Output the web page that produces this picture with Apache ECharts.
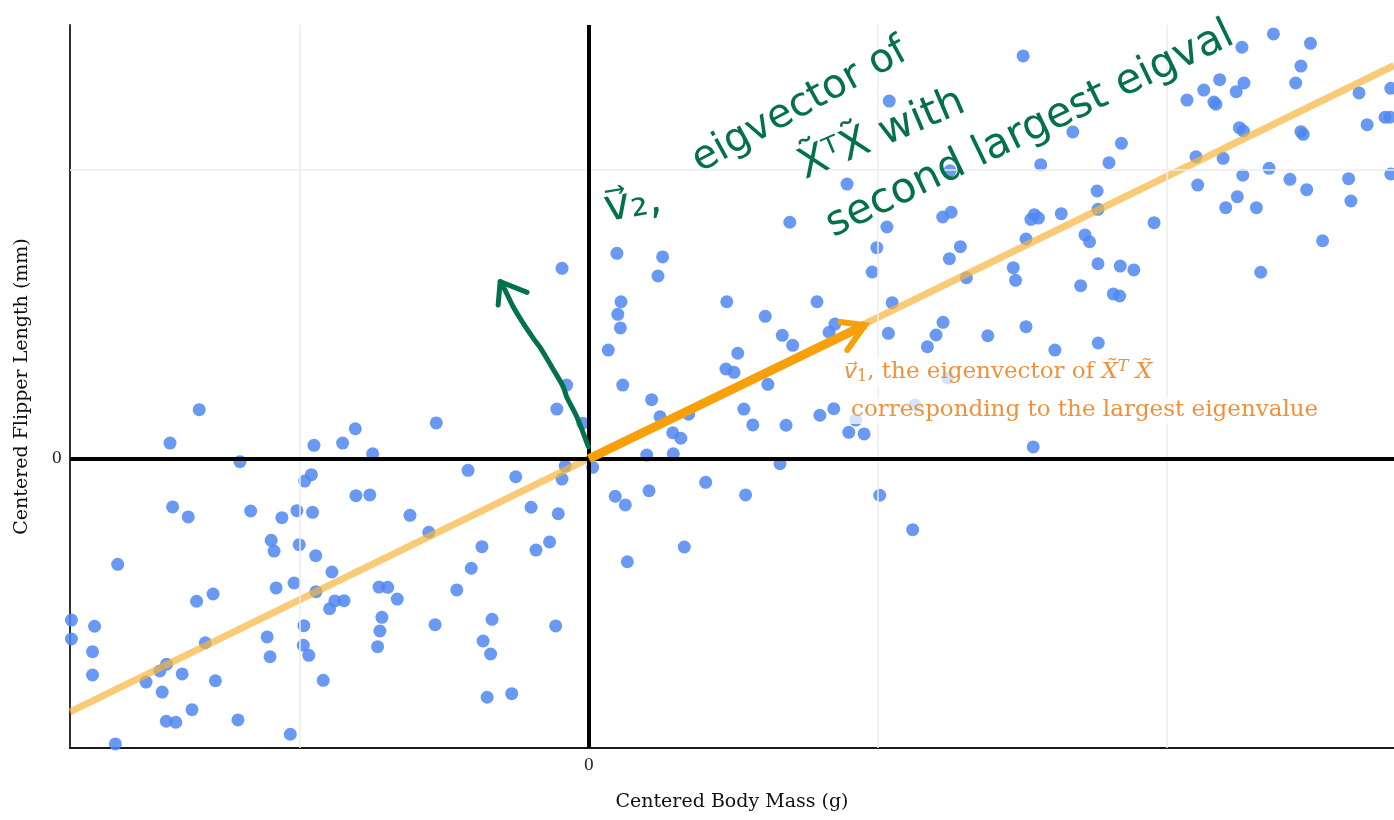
<!DOCTYPE html>
<html>
<head>
<meta charset="utf-8">
<script src="https://cdn.jsdelivr.net/npm/echarts@6/dist/echarts.min.js"></script>
<style>
html, body { margin: 0; padding: 0; background: #ffffff; }
#chart { width: 1394px; height: 820px; }
</style>
</head>
<body>
<div id="chart"></div>
<script>
// ---- data ----
// centered body mass (g) of each penguin
const massX = [
  -1348, -1449, -1207, -951, -852, -808, -748, -528, -418, -960,
  -983, -1440, -1386, -1170, -1062, -1010, -956, -806, -758, -619,
  -554, -1099, -1089, -1002, -945, -889, -370, -407, -1630, -1082,
  -1020, -944, -879, -847, -897, -726, -696, -663, -457, -1357,
  -1300, -716, -723, -731, -532, -335, -366, -340, -1790, -1790,
  -1710, -1717, -1717, -1327, -1113, -1103, -986, -988, -969, -1461,
  -1484, -1407, -1532, -1476, -1292, -919, -1373, -1462, -1429, -1214,
  -1033, -1638, -352, -267,
  -77, -111, -21, 117, 217, 246, 345, 290, 318, 200,
  292, 536, 567, 619, 682, 799, 847, 899, 952, 923,
  661, -82, 13, -253, -93, 91, 126, 208, 404, 542,
  1006, 1120, -200, -106, -183, -136, 330, 133, -115,
  -93, 97, 255, 239, 111, 100, 109, 67, 477, 610,
  669, 705, 515, 474, 502, 789, 851, 831, 1036, 1049,
  980, 996, 1031, 893, 695, 1039, 1171,
  1502, 1674, 1563, 1842, 1799, 1249, 1758, 1761, 1634, 1541,
  1529, 1555, 1224, 1253, 1955, 1716, 1732, 1512, 1285, 1247,
  1306, 1468, 1476, 1761, 1838, 1885, 1701, 1814, 1836, 1225,
  1201, 1380, 1512, 1762, 1612, 1128, 1242,
  2368, 2496, 2259, 2463, 2445, 2182, 2266, 2127, 2239, 2069,
  2169, 2162, 2250, 2264, 2463, 2471, 2100, 2194, 2353, 2262,
  2106, 2425, 2483, 2243, 2203, 2309, 2538, 2324, 2628, 2636,
  2664, 2692, 2754, 2771, 2774, 2774, 1537
];
// centered flipper length (mm) of each penguin
const flipperY = [
  3.40, 1.09, -0.20, 0.93, 1.09, 2.08, 0.35, 2.48, -0.80, -1.10,
  -1.54, -3.33, -4.02, -3.61, -4.07, -3.59, -3.70, -2.55, -2.50, -3.91,
  -5.08, -5.64, -6.38, -5.94, -6.70, -7.83, -6.08, -7.57, -7.30, -8.93,
  -8.59, -9.19, -9.83, -9.81, -10.37, -8.87, -8.89, -9.70, -9.07, -9.85,
  -9.35, -10.96, -11.91, -12.99, -11.47, -11.10, -12.60, -13.50, -11.15, -12.46,
  -11.58, -13.34, -14.95, -12.72, -12.32, -13.69, -11.54, -12.90, -13.59, -14.21,
  -14.67, -14.88, -15.44, -16.13, -15.35, -15.32, -17.35, -18.15, -18.22, -18.06,
  -19.05, -19.72, -16.49, -16.24,
  5.10, 3.44, 2.46, 5.10, 4.09, 2.91, 3.08, 1.80, 1.42, 0.26,
  0.35, 3.44, 2.34, 5.15, 2.32, 3.01, 3.46, 1.83, 1.72, 2.68,
  -0.34, -0.50, -0.59, -1.24, -1.40, -2.59, -3.19, -2.21, -1.63, -2.50,
  -2.52, -4.90, -3.35, -3.80, -6.31, -5.75, -6.10, -7.12, -11.56,
  13.17, 14.21, 13.96, 12.64, 10.86, 9.99, 9.05, 7.52, 10.86, 9.85,
  8.54, 7.85, 7.30, 6.21, 5.98, 10.86, 9.32, 8.75, 8.68, 10.80,
  12.92, 14.60, 16.03, 19.00, 16.36, 24.74, 7.75,
  27.86, 22.60, 20.34, 21.82, 20.48, 19.92, 18.52, 17.25, 16.95, 16.88,
  16.56, 16.65, 16.72, 17.05, 16.33, 15.48, 15.01, 15.20, 14.67, 13.84,
  12.52, 13.22, 12.34, 13.49, 13.33, 13.06, 11.97, 11.40, 11.26, 9.44,
  8.56, 8.51, 9.14, 8.01, 7.52, 3.72, 5.59,
  29.38, 28.73, 28.46, 27.16, 25.99, 26.22, 25.99, 25.50, 25.39, 24.81,
  24.52, 24.67, 22.90, 22.67, 22.62, 22.44, 20.89, 20.78, 20.09, 19.61,
  18.93, 19.33, 18.61, 18.13, 17.37, 17.37, 15.08, 12.90, 19.37, 17.83,
  25.30, 23.11, 23.62, 23.62, 25.62, 19.70, 0.82
];

// axis ranges and tick labels
const xRange = [-1795, 2785];
const yRange = [-20, 30];
const xTickLabels = ['0'];
const yTickLabels = ['0'];
const xGridValues = [-1000, 1000, 2000];
const yGridValues = [20];

// first principal direction (line through the cloud) and v1 arrow
const eigLine = [[-1795, -17.5], [2785, 27.2]];
const v1Shaft = [[0, 0], [955, 9.25]];
const v1Head = [[870, 9.46], [955, 9.25], [894, 7.52]];
// hand-drawn v2 arrow
const v2Shaft = [[-2, 0.84], [-42, 2.91], [-77, 4.29], [-89, 4.99], [-129, 6.37],
  [-163, 7.52], [-192, 8.33], [-227, 9.37], [-262, 10.52], [-290, 11.67], [-307, 12.25]];
const v2Head = [[-314, 10.64], [-307, 12.25], [-214, 11.51]];

// ---- styles ----
const SERIF = '"DejaVu Serif", "Liberation Serif", serif';
const HAND = '"DejaVu Sans", "Noto Sans", sans-serif';
const GREEN = '#03714c';
const ORANGE_TXT = '#f0913a';

const points = massX.map((x, i) => [x, flipperY[i]]);

const chart = echarts.init(document.getElementById('chart'), null, { renderer: 'canvas' });

const lineBase = {
  type: 'line', showSymbol: false, symbol: 'none', silent: true,
  animation: false, clip: true, emphasis: { disabled: true }
};

chart.setOption({
  animation: false,
  backgroundColor: '#ffffff',
  grid: { left: 70, right: 0, top: 25, bottom: 72, containLabel: false },
  xAxis: {
    type: 'value', min: xRange[0], max: xRange[1],
    name: 'Centered Body Mass (g)', nameLocation: 'middle', nameGap: 45,
    nameTextStyle: { fontFamily: SERIF, fontSize: 19, color: '#111' },
    axisLine: { show: true, onZero: false, lineStyle: { color: '#1a1a1a', width: 1.8 } },
    axisTick: { show: false },
    splitLine: { show: false },
    axisLabel: {
      margin: 10, fontFamily: SERIF, fontSize: 16, color: '#222',
      showMinLabel: false, showMaxLabel: false,
      formatter: v => (xTickLabels.includes(String(v)) ? String(v) : '')
    }
  },
  yAxis: {
    type: 'value', min: yRange[0], max: yRange[1],
    name: 'Centered Flipper Length (mm)', nameLocation: 'middle', nameGap: 38,
    nameTextStyle: { fontFamily: SERIF, fontSize: 19, color: '#111' },
    axisLine: { show: true, onZero: false, lineStyle: { color: '#1a1a1a', width: 1.8 } },
    axisTick: { show: false },
    splitLine: { show: false },
    axisLabel: {
      margin: 8, fontFamily: SERIF, fontSize: 16, color: '#222',
      showMinLabel: false, showMaxLabel: false,
      formatter: v => (yTickLabels.includes(String(v)) ? String(v) : '')
    }
  },
  series: [
    // grid lines and zero axes
    Object.assign({}, lineBase, {
      name: 'guides', data: [], z: 1,
      markLine: {
        silent: true, symbol: 'none', animation: false,
        label: { show: false }, emphasis: { disabled: true },
        data: [
          ...xGridValues.map(v => ({ xAxis: v, lineStyle: { color: '#ececec', width: 1.5, type: 'solid' } })),
          ...yGridValues.map(v => ({ yAxis: v, lineStyle: { color: '#ececec', width: 1.5, type: 'solid' } })),
          { xAxis: 0, lineStyle: { color: '#000', width: 4, type: 'solid' } },
          { yAxis: 0, lineStyle: { color: '#000', width: 4, type: 'solid' } }
        ]
      }
    }),
    {
      name: 'penguins', type: 'scatter', data: points, z: 3,
      symbolSize: 13, silent: true, animation: false,
      itemStyle: { color: '#4f87f0', opacity: 0.85 },
      emphasis: { disabled: true }
    },
    Object.assign({}, lineBase, {
      name: 'first PC', data: eigLine, z: 4,
      lineStyle: { color: '#f7b53c', width: 7, opacity: 0.7, cap: 'butt' }
    }),
    Object.assign({}, lineBase, {
      name: 'v1', data: v1Shaft, z: 5,
      lineStyle: { color: '#f7a00c', width: 9, cap: 'butt' }
    }),
    Object.assign({}, lineBase, {
      name: 'v1 head', data: v1Head, z: 5,
      lineStyle: { color: '#f7a00c', width: 6, cap: 'round', join: 'miter' }
    }),
    Object.assign({}, lineBase, {
      name: 'v2', data: v2Shaft, z: 6, smooth: 0.3,
      lineStyle: { color: GREEN, width: 5, cap: 'round', join: 'round' }
    }),
    Object.assign({}, lineBase, {
      name: 'v2 head', data: v2Head, z: 6,
      lineStyle: { color: GREEN, width: 5, cap: 'round', join: 'round' }
    })
  ],
  graphic: [
    {
      type: 'text', left: 838, top: 357, z: 20, silent: true,
      style: {
        text: '{a|v⃗}{s|1}{t|, the eigenvector of }{v|X̃}{p|T}{t| }{v|X̃}',
        backgroundColor: 'rgba(255,255,255,0.72)', padding: [2, 6, 2, 6],
        rich: {
          a: { fontFamily: '"DejaVu Sans", sans-serif', fontSize: 22, fontStyle: 'italic', fill: ORANGE_TXT },
          v: { fontFamily: SERIF, fontSize: 23, fontStyle: 'italic', fill: ORANGE_TXT },
          t: { fontFamily: SERIF, fontSize: 23, fill: ORANGE_TXT },
          s: { fontFamily: SERIF, fontSize: 16, fill: ORANGE_TXT, verticalAlign: 'bottom', padding: [10, 0, 0, 0] },
          p: { fontFamily: SERIF, fontSize: 16, fontStyle: 'italic', fill: ORANGE_TXT, verticalAlign: 'top', padding: [0, 0, 10, 0] }
        }
      }
    },
    {
      type: 'text', left: 845, top: 397, z: 20, silent: true,
      style: {
        text: 'corresponding to the largest eigenvalue',
        font: '23px ' + SERIF, fill: ORANGE_TXT,
        backgroundColor: 'rgba(255,255,255,0.72)', padding: [2, 6, 2, 6]
      }
    },
    {
      type: 'text', x: 633, y: 205, rotation: 0.17, z: 20, silent: true,
      style: { text: 'v⃗₂,', font: '44px ' + HAND, fill: GREEN, align: 'center', verticalAlign: 'middle' }
    },
    {
      type: 'text', x: 800, y: 106, rotation: 0.5, z: 20, silent: true,
      style: { text: 'eigvector of', font: '40px ' + HAND, fill: GREEN, align: 'center', verticalAlign: 'middle' }
    },
    {
      type: 'text', x: 882, y: 135, rotation: 0.4, z: 20, silent: true,
      style: { text: 'X̃ᵀX̃ with', font: '42px ' + HAND, fill: GREEN, align: 'center', verticalAlign: 'middle' }
    },
    {
      type: 'text', x: 1030, y: 130, rotation: 0.45, z: 20, silent: true,
      style: { text: 'second largest eigval', font: '42px ' + HAND, fill: GREEN, align: 'center', verticalAlign: 'middle' }
    }
  ]
});
</script>
</body>
</html>
